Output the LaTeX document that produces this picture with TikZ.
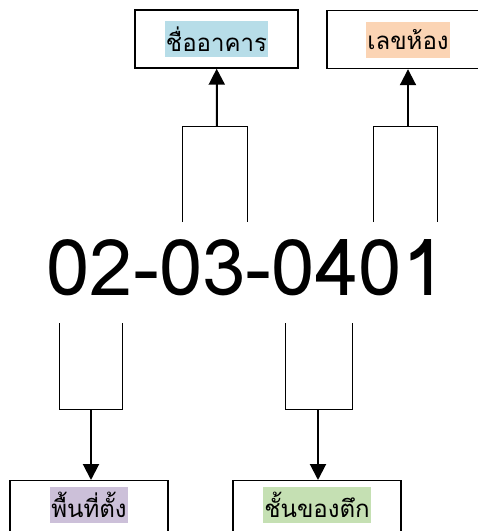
\documentclass[tikz,border=0pt]{standalone}
\usepackage{fontspec}
\newfontfamily\thaifont[Script=Thai]{Loma}
\usetikzlibrary{positioning,arrows.meta}

\definecolor{hlblue}{HTML}{B7DDE8}
\definecolor{hlpeach}{HTML}{FBD4B4}
\definecolor{hlpurple}{HTML}{CCC0D9}
\definecolor{hlgreen}{HTML}{C5E0B3}

\tikzset{
    namebox/.style={draw, line width=1.4pt, minimum height=58pt, inner sep=0pt},
    hilite/.style={fill=#1, inner xsep=1pt, inner ysep=0pt, minimum height=36pt,
        font=\thaifont\fontsize{24}{28}\selectfont},
    brace/.style={line width=0.9pt},
    pointer/.style={line width=2pt, -{Triangle[length=16pt,width=16pt]}}
}

\begin{document}
\begin{tikzpicture}[x=1pt,y=-1pt]
    \useasboundingbox (0,0) rectangle (478,531);
    \clip (0,0) rectangle (478,531);

    % the code itself
    \node[font=\thaifont\fontsize{78}{90}\selectfont, anchor=base, inner sep=0pt] (code) at (246,295) {02-03-0401};

    % upper boxes
    \node[namebox, minimum width=163pt] (building) at (216.5,39) {};
    \node[hilite=hlblue] (buildingtxt) at (building.center) {ชื่ออาคาร};
    \node[namebox, minimum width=162pt] (room) at (408,39.5) {};
    \node[hilite=hlpeach] (roomtxt) at (room.center) {เลขห้อง};

    % lower boxes
    \node[namebox, minimum width=158pt, anchor=north] (area) at (89,480) {};
    \node[hilite=hlpurple] (areatxt) at ([yshift=5pt]area.center) {พื้นที่ตั้ง};
    \node[namebox, minimum width=168pt, anchor=north] (floor) at (317,480) {};
    \node[hilite=hlgreen] (floortxt) at ([yshift=5pt]floor.center) {ชั้นของตึก};

    % brackets above the code
    \coordinate (b1) at (217,126);
    \coordinate (r1) at (408,126);
    \draw[brace] (182,222) |- (247,126) -- (247,222);
    \draw[brace] (373,222) |- (437,126) -- (437,222);
    \draw[pointer] (b1) -- (building);
    \draw[pointer] (r1) -- (room);

    % brackets below the code
    \coordinate (a1) at (91,409);
    \coordinate (f1) at (318,409);
    \draw[brace] (59,323) |- (122,409) -- (122,323);
    \draw[brace] (285,323) |- (352,409) -- (352,323);
    \draw[pointer] (a1) -- (a1 |- area.north);
    \draw[pointer] (f1) -- (f1 |- floor.north);
\end{tikzpicture}
\end{document}
